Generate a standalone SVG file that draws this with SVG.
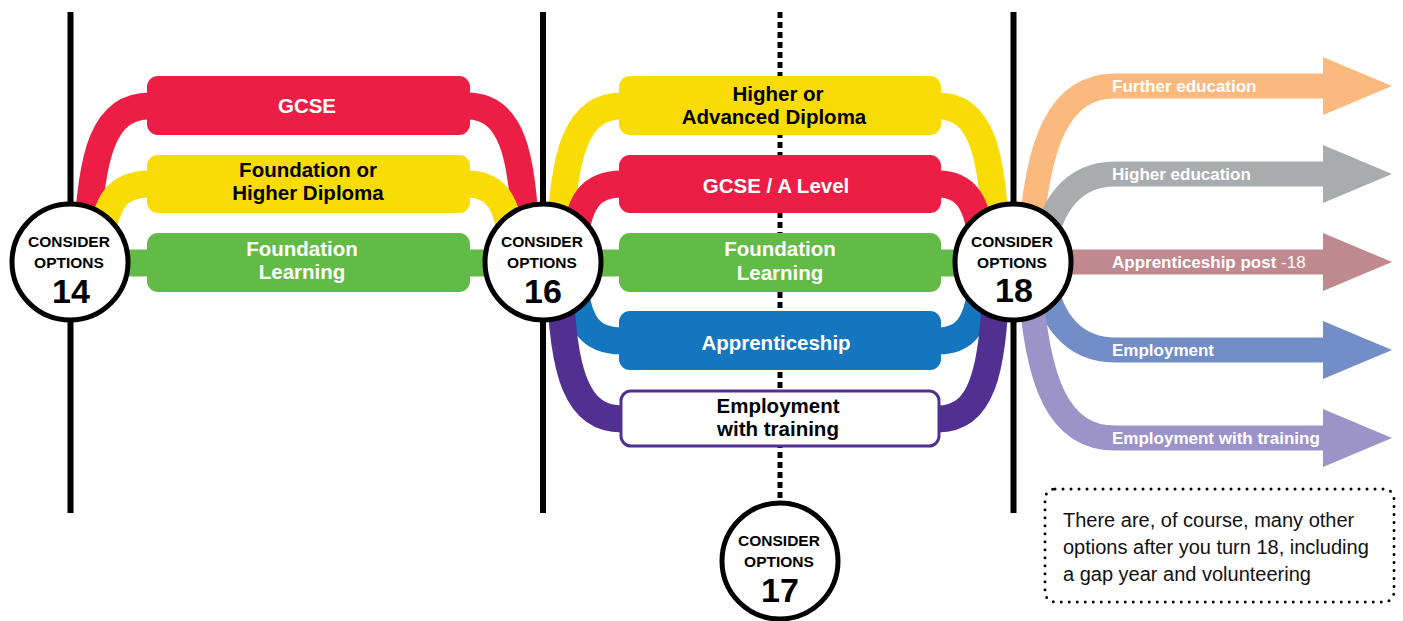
<svg xmlns="http://www.w3.org/2000/svg" width="1403" height="621" viewBox="0 0 1403 621">
<style>
.vline{stroke:#000;stroke-width:6;fill:none}
.dline{stroke:#000;stroke-width:5;stroke-dasharray:6 4;fill:none}
.c{fill:none;stroke-width:27}
.a{fill:none;stroke-width:25}
.ring{fill:#fff;stroke:#000;stroke-width:5}
.t{font-family:"Liberation Sans",Arial,sans-serif;font-weight:bold;text-anchor:middle}
.box{font-size:20.5px}
.w{fill:#fff}
.k{fill:#000}
.ct{font-size:15.5px}
.num{font-size:34px}
.al{font-family:"Liberation Sans",Arial,sans-serif;font-weight:bold;font-size:17px;fill:#fff}
.note{font-family:"Liberation Sans",Arial,sans-serif;font-size:20px;fill:#111}
.red{stroke:#ED1E45}.redf{fill:#ED1E45}
.yel{stroke:#F9DC06}.yelf{fill:#F9DC06}
.grn{stroke:#63BB47}.grnf{fill:#63BB47}
.blu{stroke:#1476BE}.bluf{fill:#1476BE}
.pur{stroke:#523092}
</style>

<g id="timeline">
  <line class="vline" x1="70.5" y1="12" x2="70.5" y2="513"/>
  <line class="vline" x1="543" y1="12" x2="543" y2="513"/>
  <line class="vline" x1="1013.5" y1="12" x2="1013.5" y2="513"/>
  <line class="dline" x1="780" y1="12" x2="780" y2="502"/>
</g>

<g id="connectors">
  <path class="c grn" d="M 70,263 L 1013,263"/>
  <path class="c red" d="M 87,250 C 90,150 105,106 150,106"/>
  <path class="c red" d="M 526,250 C 524,150 510,106 467,106"/>
  <path class="c yel" d="M 100,250 C 105,200 118,184 150,184"/>
  <path class="c yel" d="M 513,250 C 508,200 495,184 467,184"/>
  <path class="c yel" d="M 560,250 C 562,150 578,106 622,106"/>
  <path class="c yel" d="M 996,250 C 994,150 980,106 938,106"/>
  <path class="c red" d="M 573,250 C 578,200 591,184 622,184"/>
  <path class="c red" d="M 983,250 C 978,200 965,184 938,184"/>
  <path class="c blu" d="M 573,276 C 578,326 591,341 622,341"/>
  <path class="c blu" d="M 983,276 C 978,326 965,341 938,341"/>
  <path class="c pur" d="M 560,276 C 562,376 578,419 622,419"/>
  <path class="c pur" d="M 996,276 C 994,376 980,419 938,419"/>
  <path class="a" stroke="#FBB97D" d="M 1030,250 C 1036,140 1060,86 1115,86 L 1325,86"/>
  <polygon fill="#FBB97D" points="1323,57 1392,86 1323,115"/>
  <path class="a" stroke="#A8ACAE" d="M 1043,250 C 1050,210 1070,174 1115,174 L 1325,174"/>
  <polygon fill="#A8ACAE" points="1323,145 1392,174 1323,203"/>
  <path class="a" stroke="#C0888F" d="M 1013,262 L 1325,262"/>
  <polygon fill="#C0888F" points="1323,233 1392,262 1323,291"/>
  <path class="a" stroke="#738DC7" d="M 1043,276 C 1050,316 1070,350 1115,350 L 1325,350"/>
  <polygon fill="#738DC7" points="1323,321 1392,350 1323,379"/>
  <path class="a" stroke="#9C94C8" d="M 1030,276 C 1036,386 1060,438 1115,438 L 1325,438"/>
  <polygon fill="#9C94C8" points="1323,409 1392,438 1323,467"/>
</g>

<g id="gcse14">
  <rect class="redf" x="147" y="76" width="323" height="59" rx="11"/>
  <text class="t box w" x="307" y="113">GCSE</text>
</g>
<g id="diploma14">
  <rect class="yelf" x="147" y="155" width="323" height="58" rx="11"/>
  <text class="t box k" x="308" y="177">Foundation or</text>
  <text class="t box k" x="308" y="200">Higher Diploma</text>
</g>
<g id="foundation14">
  <rect class="grnf" x="147" y="233" width="323" height="59" rx="11"/>
  <text class="t box w" x="302" y="256">Foundation</text>
  <text class="t box w" x="302" y="279">Learning</text>
</g>

<g id="diploma16">
  <rect class="yelf" x="619" y="76" width="322" height="59" rx="11"/>
  <text class="t box k" x="778" y="101">Higher or</text>
  <text class="t box k" x="774" y="124">Advanced Diploma</text>
</g>
<g id="gcse16">
  <rect class="redf" x="619" y="155" width="322" height="58" rx="11"/>
  <text class="t box w" x="776" y="193">GCSE / A Level</text>
</g>
<g id="foundation16">
  <rect class="grnf" x="619" y="233" width="322" height="59" rx="11"/>
  <text class="t box w" x="780" y="256">Foundation</text>
  <text class="t box w" x="780" y="280">Learning</text>
</g>
<g id="apprenticeship16">
  <rect class="bluf" x="619" y="311" width="322" height="59" rx="11"/>
  <text class="t box w" x="776" y="350">Apprenticeship</text>
</g>
<g id="employment16">
  <rect x="621" y="391" width="318" height="55" rx="10" fill="#fff" stroke="#523092" stroke-width="3"/>
  <text class="t box k" x="778" y="413">Employment</text>
  <text class="t box k" x="778" y="436">with training</text>
</g>

<g id="post18">
  <text class="al" x="1112" y="92">Further education</text>
  <text class="al" x="1112" y="180">Higher education</text>
  <text class="al" x="1112" y="268">Apprenticeship post <tspan font-weight="normal">-18</tspan></text>
  <text class="al" x="1112" y="356">Employment</text>
  <text class="al" x="1112" y="444">Employment with training</text>
</g>

<g id="options14">
  <circle class="ring" cx="70" cy="262" r="58"/>
  <text class="t ct k" x="69" y="247">CONSIDER</text>
  <text class="t ct k" x="69" y="268">OPTIONS</text>
  <text class="t num k" x="71" y="303">14</text>
</g>
<g id="options16">
  <circle class="ring" cx="543" cy="262" r="58"/>
  <text class="t ct k" x="542" y="247">CONSIDER</text>
  <text class="t ct k" x="542" y="268">OPTIONS</text>
  <text class="t num k" x="543" y="303">16</text>
</g>
<g id="options18">
  <circle class="ring" cx="1013" cy="262" r="58"/>
  <text class="t ct k" x="1012" y="247">CONSIDER</text>
  <text class="t ct k" x="1012" y="268">OPTIONS</text>
  <text class="t num k" x="1014" y="302">18</text>
</g>
<g id="options17">
  <circle class="ring" cx="780" cy="561" r="58"/>
  <text class="t ct k" x="779" y="546">CONSIDER</text>
  <text class="t ct k" x="779" y="567">OPTIONS</text>
  <text class="t num k" x="780" y="602">17</text>
</g>

<g id="note">
  <rect x="1045" y="489" width="349" height="113" rx="10" fill="none" stroke="#000" stroke-width="3" stroke-dasharray="0 8" stroke-linecap="round"/>
  <text class="note" x="1063" y="527">There are, of course, many other</text>
  <text class="note" x="1063" y="554">options after you turn 18, including</text>
  <text class="note" x="1063" y="581">a gap year and volunteering</text>
</g>
</svg>
